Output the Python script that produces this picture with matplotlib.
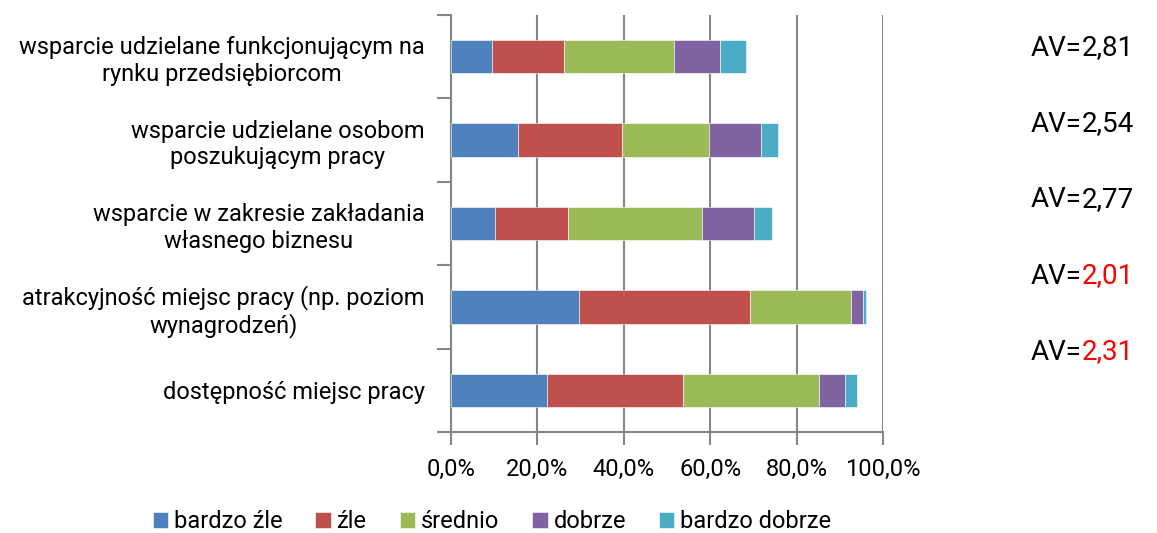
import numpy as np
import matplotlib
matplotlib.use("Agg")
import matplotlib.pyplot as plt

plt.rcParams['font.family'] = ['Roboto', 'DejaVu Sans']

categories = [
    "wsparcie udzielane funkcjonującym na\nrynku przedsiębiorcom",
    "wsparcie udzielane osobom\nposzukującym pracy",
    "wsparcie w zakresie zakładania\nwłasnego biznesu",
    "atrakcyjność miejsc pracy (np. poziom\nwynagrodzeń)",
    "dostępność miejsc pracy",
]
series_names = ["bardzo źle", "źle", "średnio", "dobrze", "bardzo dobrze"]
bardzo_zle = [9.4, 15.4, 10.2, 29.7, 22.2]
zle = [16.8, 24.1, 16.9, 39.6, 31.5]
srednio = [25.5, 20.3, 31.0, 23.4, 31.6]
dobrze = [10.6, 12.0, 12.1, 2.6, 6.0]
bardzo_dobrze = [6.1, 4.0, 4.2, 0.8, 2.7]
av_values = ["2,81", "2,54", "2,77", "2,01", "2,31"]
av_red = [False, False, False, True, True]

colors = ["#4F81BD", "#C0504D", "#9BBB59", "#8064A2", "#4BACC6"]

fig = plt.figure(figsize=(11.57, 5.33), dpi=100)
ax = fig.add_axes([451/1157, 101/533, 432/1157, 417/533])

y = np.arange(len(categories))
left = np.zeros(len(categories))
for name, vals, c in zip(series_names, [bardzo_zle, zle, srednio, dobrze, bardzo_dobrze], colors):
    ax.barh(y, vals, left=left, height=0.4, color=c, label=name, edgecolor='white', linewidth=0.4, zorder=3)
    left += np.array(vals)

ax.set_xlim(0, 100)
ax.set_ylim(len(categories) - 0.5, -0.5)
ax.set_xticks(np.arange(0, 101, 20))
ax.set_xticklabels([f"{v:.1f}%".replace(".", ",") for v in range(0, 101, 20)], fontsize=17)
ax.grid(axis='x', color='#868686', linewidth=1.5, zorder=0)
ax.set_yticks(y)
ax.set_yticklabels(categories, fontsize=17)
for lab in ax.get_yticklabels():
    lab.set_multialignment('center')
ax.set_yticks(np.arange(-0.5, len(categories)), minor=True)
ax.tick_params(axis='y', which='major', length=0, pad=19)
ax.tick_params(axis='y', which='minor', length=10, color='#868686', width=1.5)
ax.tick_params(axis='x', length=9, color='#868686', width=1.5, pad=10)
for s in ['top', 'right']:
    ax.spines[s].set_visible(False)
for s in ['left', 'bottom']:
    ax.spines[s].set_color('#868686')
    ax.spines[s].set_linewidth(1.5)

# AV labels on the right
av_y = [48, 124, 200, 276, 352]
for val, red, yy in zip(av_values, av_red, av_y):
    t = fig.text(1031/1157, 1 - yy/533, "AV=", fontsize=20, va='center', ha='left')
    ax.annotate(val, xy=(1, 0.5), xycoords=t, va='center', ha='left', fontsize=20,
                color='red' if red else 'black', annotation_clip=False)

fig.legend(loc='center', bbox_to_anchor=(492/1157, 1 - 522/533), ncol=5, frameon=False,
           fontsize=17, handlelength=0.65, handleheight=0.65, handletextpad=0.25, columnspacing=1.4)

fig.savefig("out.png", dpi=100)
